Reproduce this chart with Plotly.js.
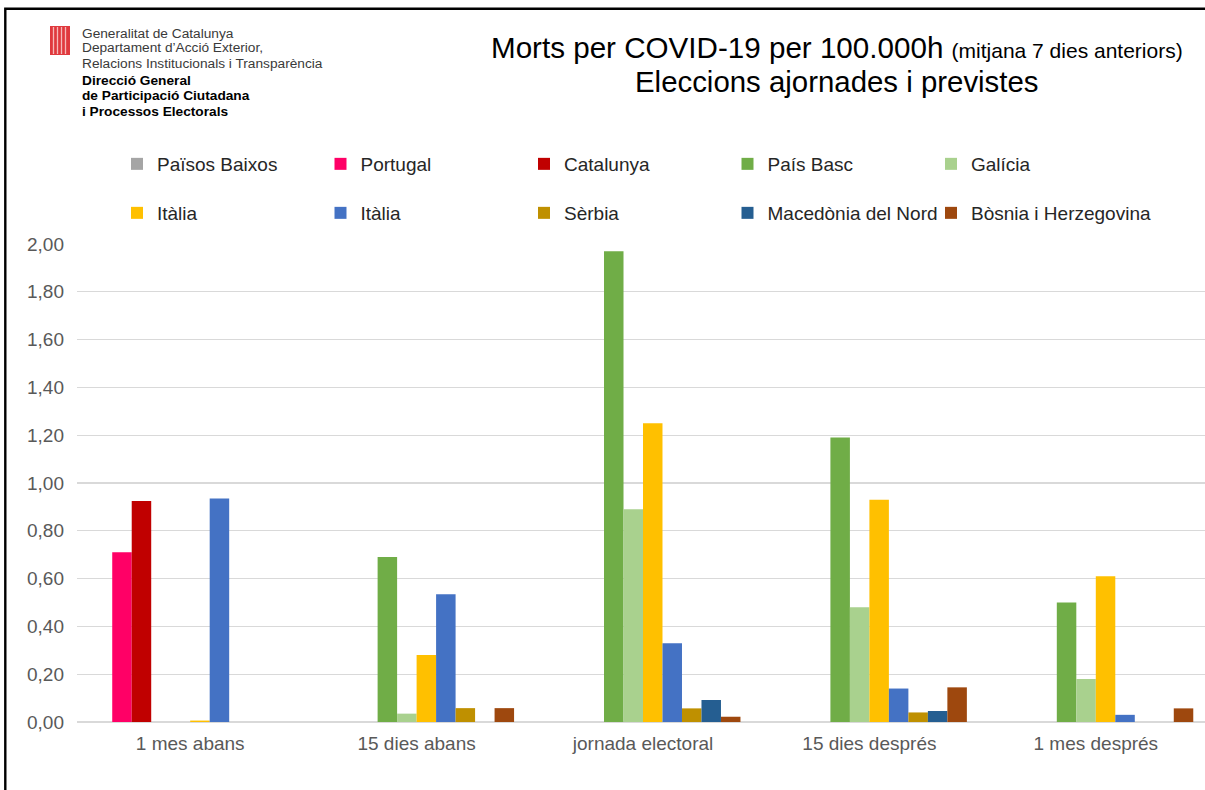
<!DOCTYPE html>
<html>
<head>
<meta charset="utf-8">
<script src="https://cdn.plot.ly/plotly-3.0.1.min.js"></script>
<style>
html,body{margin:0;padding:0;background:#fff;overflow:hidden;}
#chart{width:1212px;height:790px;}
</style>
</head>
<body>
<div id="chart"></div>
<script>
// ---- data ----
const categories = ['1 mes abans', '15 dies abans', 'jornada electoral', '15 dies després', '1 mes després'];
const seriesNames = ['Països Baixos', 'Portugal', 'Catalunya', 'País Basc', 'Galícia',
                     'Itàlia', 'Itàlia', 'Sèrbia', 'Macedònia del Nord', 'Bòsnia i Herzegovina'];
const paisosBaixos = [0, 0, 0, 0, 0];
const portugal     = [0.71, 0, 0, 0, 0];
const catalunya    = [0.925, 0, 0, 0, 0];
const paisBasc     = [0, 0.69, 1.97, 1.19, 0.50];
const galicia      = [0, 0.035, 0.89, 0.48, 0.18];
const italiaA      = [0.006, 0.28, 1.25, 0.93, 0.61];
const italiaB      = [0.935, 0.535, 0.33, 0.14, 0.03];
const serbia       = [0, 0.058, 0.057, 0.04, 0];
const macedonia    = [0, 0, 0.092, 0.046, 0];
const bosnia       = [0, 0.058, 0.022, 0.145, 0.057];
const yTicks = [0, 0.2, 0.4, 0.6, 0.8, 1.0, 1.2, 1.4, 1.6, 1.8, 2.0];

const seriesValues = [paisosBaixos, portugal, catalunya, paisBasc, galicia,
                      italiaA, italiaB, serbia, macedonia, bosnia];
const colors = ['#A5A5A5', '#FF0066', '#C00000', '#70AD47', '#A9D18E',
                '#FFC000', '#4472C4', '#BF9000', '#255E91', '#9E480E'];

// ---- geometry ----
const W = 1212, H = 790;
const M = {l: 77, r: 3, t: 244, b: 68};
const PW = W - M.l - M.r, PH = H - M.t - M.b;
const px = v => (v - M.l) / PW;
const py = v => 1 - (v - M.t) / PH;
const FONT = 'Liberation Sans, Arial, sans-serif';

const traces = seriesValues.map((vals, i) => {
  const t = {
    type: 'bar',
    x: categories,
    y: vals,
    name: seriesNames[i],
    marker: {color: colors[i], line: {width: 0}},
    legend: i < 5 ? 'legend' : 'legend2',
    hoverinfo: 'skip'
  };
  if (i === seriesValues.length - 1) t.legendwidth = 200;
  return t;
});

const legendBase = {
  orientation: 'h', xref: 'container', yref: 'container',
  x: 117 / W, xanchor: 'left', yanchor: 'top',
  entrywidth: 158.5, entrywidthmode: 'pixels',
  font: {family: FONT, size: 19, color: '#262626'},
  bgcolor: 'rgba(0,0,0,0)', traceorder: 'normal'
};

const logoLines = [
  {t: 'Generalitat de Catalunya', y: 33, b: false},
  {t: 'Departament d\u2019Acció Exterior,', y: 48, b: false},
  {t: 'Relacions Institucionals i Transparència', y: 63, b: false},
  {t: 'Direcció General', y: 80, b: true},
  {t: 'de Participació Ciutadana', y: 96, b: true},
  {t: 'i Processos Electorals', y: 111, b: true}
];

const annotations = logoLines.map(l => ({
  xref: 'paper', yref: 'paper', x: px(80), y: py(l.y),
  xanchor: 'left', yanchor: 'middle', showarrow: false,
  text: l.b ? '<b>' + l.t + '</b>' : l.t,
  font: {family: FONT, size: 13.7, color: l.b ? '#000000' : '#3a3a3a'}
}));
annotations.push({
  xref: 'paper', yref: 'paper', x: px(837), y: py(48),
  xanchor: 'center', yanchor: 'middle', showarrow: false,
  text: 'Morts per COVID-19 per 100.000h <span style="font-size:21px">(mitjana 7 dies anteriors)</span>',
  font: {family: FONT, size: 29.6, color: '#000000'}
});
annotations.push({
  xref: 'paper', yref: 'paper', x: px(837), y: py(81),
  xanchor: 'center', yanchor: 'middle', showarrow: false,
  text: 'Eleccions ajornades i previstes',
  font: {family: FONT, size: 29.4, color: '#000000'}
});

const shapes = [
  // outer frame (left and top)
  {type: 'path', xref: 'paper', yref: 'paper',
   path: `M ${px(5.3)} ${py(800)} L ${px(5.3)} ${py(8.7)} L ${px(1212)} ${py(8.7)}`,
   line: {color: '#000000', width: 2.4}},
  // logo emblem
  {type: 'rect', xref: 'paper', yref: 'paper',
   x0: px(50), x1: px(70), y0: py(55), y1: py(26),
   fillcolor: '#E0393E', line: {width: 0}}
];
[53.5, 57.5, 61.5, 65.5].forEach(xx => shapes.push({
  type: 'line', xref: 'paper', yref: 'paper',
  x0: px(xx), x1: px(xx), y0: py(54), y1: py(27),
  line: {color: '#F6B8B8', width: 1.3}
}));

const layout = {
  width: W, height: H,
  margin: {l: M.l, r: M.r, t: M.t, b: M.b, autoexpand: false},
  paper_bgcolor: '#ffffff', plot_bgcolor: '#ffffff',
  font: {family: FONT, color: '#595959'},
  separators: ',.',
  barmode: 'group', bargap: 0.139, bargroupgap: 0,
  hovermode: false,
  showlegend: true,
  legend: Object.assign({}, legendBase, {y: 1 - 145 / H}),
  legend2: Object.assign({}, legendBase, {y: 1 - 194 / H}),
  xaxis: {
    type: 'category', showgrid: false, zeroline: false, showline: false,
    ticks: '', tickfont: {family: FONT, size: 19, color: '#595959'},
    ticklabelstandoff: 8, fixedrange: true
  },
  yaxis: {
    range: [0, 2], tickvals: yTicks, tickformat: '.2f',
    showgrid: true, gridcolor: '#D9D9D9', gridwidth: 1.2,
    zeroline: true, zerolinecolor: '#D9D9D9', zerolinewidth: 1.2,
    showline: false, ticks: '',
    tickfont: {family: FONT, size: 19, color: '#595959'},
    ticklabelstandoff: 12, fixedrange: true
  },
  annotations: annotations,
  shapes: shapes
};

Plotly.newPlot('chart', traces, layout, {staticPlot: true, displayModeBar: false});
</script>
</body>
</html>
